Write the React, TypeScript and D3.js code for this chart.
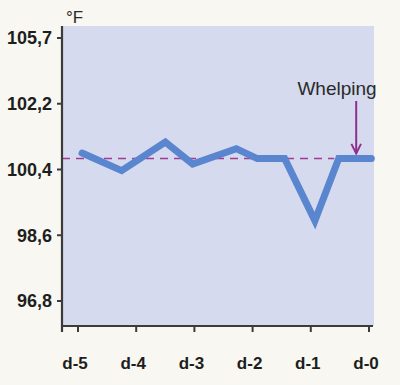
import React, { useEffect, useRef } from 'react';
import * as d3 from 'd3';

// Tick labels (the y axis is not proportional, each step is one gap)
const yTickValues = [96.8, 98.6, 100.4, 102.2, 105.7];
const yTickLabels = ['96,8', '98,6', '100,4', '102,2', '105,7'];
const dayTicks = [-5, -4, -3, -2, -1, 0];
const dayLabels = ['d-5', 'd-4', 'd-3', 'd-2', 'd-1', 'd-0'];

// Temperature readings (day offset, °F)
const readingDays = [-4.93, -4.25, -3.5, -3.03, -2.28, -1.92, -1.45, -0.93, -0.52, 0.04];
const readingTemps = [100.85, 100.37, 101.15, 100.55, 100.97, 100.7, 100.7, 99.0, 100.7, 100.7];

const normalTemp = 100.7;
const whelpingDay = -0.22;

const App = () => {
  const svgRef = useRef<SVGSVGElement>(null);

  const width = 400;
  const height = 385;

  useEffect(() => {
    const svg = d3.select(svgRef.current);
    svg.selectAll('*').remove();

    const plotLeft = 62;
    const plotRight = 374;
    const plotTop = 26;
    const plotBottom = 326;

    const x = d3.scaleLinear().domain([-5, 0]).range([78, 369]);

    // evenly spaced tick positions, piecewise scale between them
    const yPos = d3.scalePoint<string>().domain(yTickLabels).range([301, 38]);
    const y = d3
      .scaleLinear()
      .domain(yTickValues)
      .range(yTickLabels.map((l) => yPos(l) as number));

    svg.append('rect').attr('width', width).attr('height', height).attr('fill', '#f8f7f1');

    svg
      .append('rect')
      .attr('x', plotLeft)
      .attr('y', plotTop)
      .attr('width', plotRight - plotLeft)
      .attr('height', plotBottom - plotTop)
      .attr('fill', '#d5daee');

    // normal temperature line
    svg
      .append('line')
      .attr('x1', plotLeft)
      .attr('x2', x(-0.6))
      .attr('y1', y(normalTemp))
      .attr('y2', y(normalTemp))
      .attr('stroke', '#a33a93')
      .attr('stroke-width', 1.6)
      .attr('stroke-dasharray', '8,6');

    const points = readingDays.map((d, i) => [d, readingTemps[i]] as [number, number]);
    const line = d3
      .line<[number, number]>()
      .x((d) => x(d[0]))
      .y((d) => y(d[1]));

    svg
      .append('path')
      .attr('d', line(points))
      .attr('fill', 'none')
      .attr('stroke', '#5a85cf')
      .attr('stroke-width', 7)
      .attr('stroke-linejoin', 'miter')
      .attr('stroke-linecap', 'round');

    // axes
    const axisColor = '#3b3b3b';
    svg
      .append('line')
      .attr('x1', plotLeft)
      .attr('x2', plotLeft)
      .attr('y1', plotTop)
      .attr('y2', plotBottom + 6)
      .attr('stroke', axisColor)
      .attr('stroke-width', 2.2);
    svg
      .append('line')
      .attr('x1', plotLeft)
      .attr('x2', plotRight - 1)
      .attr('y1', plotBottom)
      .attr('y2', plotBottom)
      .attr('stroke', axisColor)
      .attr('stroke-width', 2.2);

    const yTicks = svg
      .selectAll('.ytick')
      .data(yTickValues)
      .enter()
      .append('g')
      .attr('transform', (d) => `translate(0, ${y(d)})`);
    yTicks
      .append('line')
      .attr('x1', plotLeft - 5)
      .attr('x2', plotLeft)
      .attr('stroke', axisColor)
      .attr('stroke-width', 2);
    yTicks
      .append('text')
      .attr('x', plotLeft - 10)
      .attr('dy', '0.36em')
      .attr('text-anchor', 'end')
      .style('font-family', '"Liberation Sans Narrow", "Liberation Sans", sans-serif')
      .style('font-weight', 'bold')
      .style('font-size', '18px')
      .style('fill', '#1e1e1e')
      .text((d, i) => yTickLabels[i]);

    const xTicks = svg
      .selectAll('.xtick')
      .data(dayTicks)
      .enter()
      .append('g')
      .attr('transform', (d) => `translate(${x(d)}, ${plotBottom})`);
    xTicks
      .append('line')
      .attr('y1', 0)
      .attr('y2', 6)
      .attr('stroke', axisColor)
      .attr('stroke-width', 2);
    xTicks
      .append('text')
      .attr('x', -3)
      .attr('y', 43)
      .attr('text-anchor', 'middle')
      .style('font-family', '"Liberation Sans Narrow", "Liberation Sans", sans-serif')
      .style('font-weight', 'bold')
      .style('font-size', '17px')
      .style('fill', '#1e1e1e')
      .text((d, i) => dayLabels[i]);

    // unit
    svg
      .append('text')
      .attr('x', 66)
      .attr('y', 23)
      .style('font-family', '"Liberation Sans", sans-serif')
      .style('font-size', '17px')
      .style('fill', '#2a2a2a')
      .text('°F');

    // whelping annotation
    const arrowColor = '#8e2f8e';
    svg
      .append('defs')
      .append('marker')
      .attr('id', 'arrowhead')
      .attr('viewBox', '0 0 10 10')
      .attr('refX', 9)
      .attr('refY', 5)
      .attr('markerWidth', 6)
      .attr('markerHeight', 6)
      .attr('orient', 'auto')
      .append('path')
      .attr('d', 'M1,1 L9,5 L1,9')
      .attr('fill', 'none')
      .attr('stroke', arrowColor)
      .attr('stroke-width', 1.6);

    svg
      .append('line')
      .attr('x1', x(whelpingDay))
      .attr('x2', x(whelpingDay))
      .attr('y1', 101)
      .attr('y2', y(normalTemp) - 5)
      .attr('stroke', arrowColor)
      .attr('stroke-width', 2)
      .attr('marker-end', 'url(#arrowhead)');

    svg
      .append('text')
      .attr('x', 337)
      .attr('y', 95)
      .attr('text-anchor', 'middle')
      .style('font-family', '"Liberation Sans", Arial, sans-serif')
      .style('font-size', '19px')
      .style('fill', '#2a2a2a')
      .text('Whelping');
  }, []);

  return (
    <div style={{ position: 'absolute', left: 0, top: 0 }}>
      <svg ref={svgRef} width={width} height={height} style={{ display: 'block' }}></svg>
    </div>
  );
};

export default App;
